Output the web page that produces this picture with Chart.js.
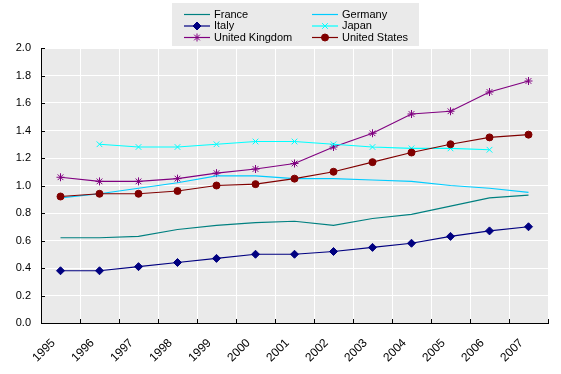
<!DOCTYPE html>
<html>
<head>
<meta charset="utf-8">
<script src="https://cdn.jsdelivr.net/npm/chart.js@4/dist/chart.umd.min.js"></script>
<style>
  html, body { margin: 0; padding: 0; background: #fff; }
</style>
</head>
<body>
<canvas id="chart" width="561" height="374"></canvas>
<script>
// data
const years = ['1995', '1996', '1997', '1998', '1999', '2000', '2001', '2002', '2003', '2004', '2005', '2006', '2007'];
const france  = [0.62, 0.62, 0.63, 0.68, 0.71, 0.73, 0.74, 0.71, 0.76, 0.79, 0.85, 0.91, 0.93];
const germany = [0.91, 0.94, 0.98, 1.02, 1.07, 1.07, 1.05, 1.05, 1.04, 1.03, 1.00, 0.98, 0.95];
const italy   = [0.38, 0.38, 0.41, 0.44, 0.47, 0.50, 0.50, 0.52, 0.55, 0.58, 0.63, 0.67, 0.70];
const japan   = [null, 1.30, 1.28, 1.28, 1.30, 1.32, 1.32, 1.30, 1.28, 1.27, 1.27, 1.26, null];
const uk      = [1.06, 1.03, 1.03, 1.05, 1.09, 1.12, 1.16, 1.28, 1.38, 1.52, 1.54, 1.68, 1.76];
const us      = [0.92, 0.94, 0.94, 0.96, 1.00, 1.01, 1.05, 1.10, 1.17, 1.24, 1.30, 1.35, 1.37];

const FONT = { family: "'Liberation Sans', Arial, sans-serif", size: 11 };

function series(label, data, color, style, radius) {
    return {
        label: label,
        data: data,
        borderColor: color,
        backgroundColor: color,
        borderWidth: 1.2,
        pointStyle: style || 'circle',
        pointRadius: radius || 0,
        pointHoverRadius: radius || 0,
        pointBorderWidth: 1,
        tension: 0,
        order: 1
    };
}

const datasets = [
    series('France', france, '#008080'),
    series('Germany', germany, '#00CCFF'),
    series('Italy', italy, '#000080', 'rectRot', 4),
    series('Japan', japan, '#00FFFF', 'crossRot', 4),
    series('United Kingdom', uk, '#800080', 'star', 4),
    series('United States', us, '#800000', 'circle', 3.5)
];
datasets[5].order = 0; // US on top

// gray plot background
const plotBg = {
    id: 'plotBg',
    beforeDraw(chart) {
        const a = chart.chartArea, ctx = chart.ctx;
        ctx.save();
        ctx.fillStyle = '#EAEAEA';
        ctx.fillRect(a.left, a.top, a.right - a.left, a.bottom - a.top);
        ctx.restore();
    }
};

// small inward tick marks + boxed two column legend
const extras = {
    id: 'extras',
    afterDraw(chart) {
        const ctx = chart.ctx, a = chart.chartArea;
        const xs = chart.scales.x, ys = chart.scales.y;
        ctx.save();
        ctx.strokeStyle = '#000';
        ctx.lineWidth = 1;
        ctx.beginPath();
        ys.ticks.forEach(t => {
            const y = Math.round(ys.getPixelForValue(t.value)) + 0.5;
            ctx.moveTo(a.left, y); ctx.lineTo(a.left + 4, y);
        });
        for (let i = 0; i <= years.length; i++) {
            const x = Math.round(xs.getPixelForValue(i - 0.5)) + 0.5;
            ctx.moveTo(x, a.bottom); ctx.lineTo(x, a.bottom - 4);
        }
        ctx.stroke();

        // legend box
        ctx.fillStyle = '#EAEAEA';
        ctx.fillRect(172, 3, 247, 43);
        ctx.font = FONT.size + 'px ' + FONT.family;
        ctx.textBaseline = 'middle';
        ctx.textAlign = 'left';
        const colX = [184, 312];
        const rowY = [14.5, 26, 37.5];
        chart.data.datasets.forEach((ds, i) => {
            const x0 = colX[i % 2], y = rowY[Math.floor(i / 2)];
            ctx.strokeStyle = ds.borderColor;
            ctx.lineWidth = ds.borderWidth;
            ctx.beginPath();
            ctx.moveTo(x0, y); ctx.lineTo(x0 + 26, y);
            ctx.stroke();
            if (ds.pointRadius > 0 && Chart.helpers && Chart.helpers.drawPoint) {
                ctx.fillStyle = ds.backgroundColor;
                ctx.lineWidth = 1;
                Chart.helpers.drawPoint(ctx, {
                    pointStyle: ds.pointStyle, radius: ds.pointRadius, rotation: 0, borderWidth: 1
                }, x0 + 13, y);
            }
            ctx.fillStyle = '#000';
            ctx.fillText(ds.label, x0 + 30, y);
        });
        ctx.restore();
    }
};

new Chart(document.getElementById('chart'), {
    type: 'line',
    data: { labels: years, datasets: datasets },
    options: {
        responsive: false,
        animation: false,
        layout: { padding: { top: 48, right: 13, left: 0, bottom: 0 } },
        plugins: {
            legend: { display: false },
            tooltip: { enabled: false }
        },
        scales: {
            x: {
                offset: true,
                grid: { color: '#FFFFFF', lineWidth: 1, offset: true, drawTicks: false },
                border: { color: '#000', width: 1 },
                ticks: {
                    color: '#000', font: { family: FONT.family, size: 12 }, autoSkip: false,
                    minRotation: 45, maxRotation: 45, padding: 13, labelOffset: -7
                },
                afterFit(scale) { scale.height = 51; }
            },
            y: {
                min: 0, max: 2,
                grid: { color: '#FFFFFF', lineWidth: 1, drawTicks: false },
                border: { color: '#000', width: 1 },
                ticks: {
                    stepSize: 0.2, color: '#000', font: FONT, padding: 10,
                    callback: v => v.toFixed(1)
                },
                afterFit(scale) { scale.width = 41; }
            }
        }
    },
    plugins: [plotBg, extras]
});
</script>
</body>
</html>
